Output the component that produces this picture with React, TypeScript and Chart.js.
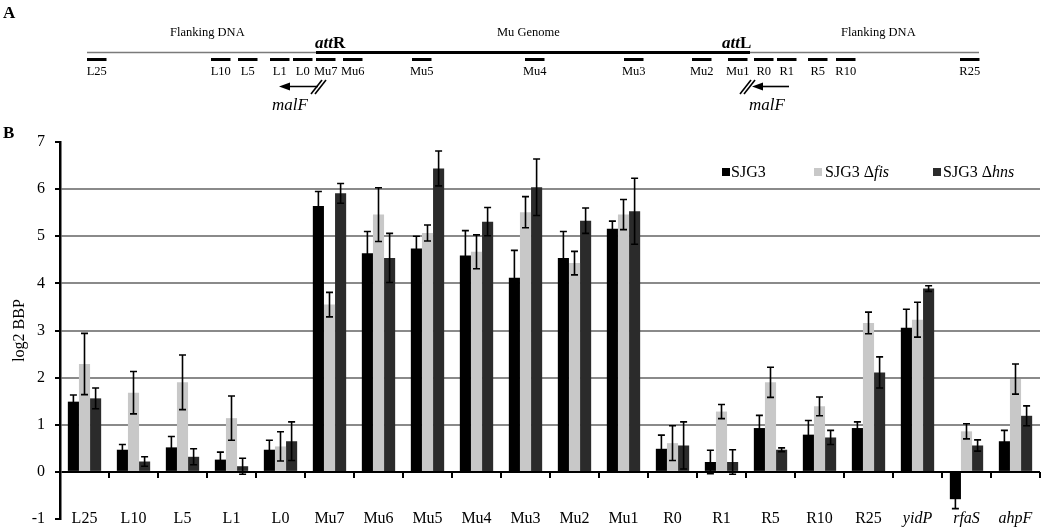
import React, { useEffect, useRef } from 'react';
import { Chart, registerables } from 'chart.js';

Chart.register(...registerables);

// ---------- Data (panel B) ----------
const categories = ['L25', 'L10', 'L5', 'L1', 'L0', 'Mu7', 'Mu6', 'Mu5', 'Mu4', 'Mu3', 'Mu2', 'Mu1', 'R0', 'R1', 'R5', 'R10', 'R25', 'yidP', 'rfaS', 'ahpF'];
const italicCategories = ['yidP', 'rfaS', 'ahpF'];

const sjg3 = [1.49, 0.47, 0.52, 0.26, 0.47, 5.64, 4.64, 4.74, 4.59, 4.12, 4.54, 5.16, 0.49, 0.21, 0.93, 0.79, 0.93, 3.06, -0.58, 0.65];
const sjg3Err = [0.14, 0.11, 0.23, 0.16, 0.2, 0.31, 0.46, 0.26, 0.53, 0.58, 0.56, 0.16, 0.29, 0.25, 0.27, 0.3, 0.13, 0.39, 0.2, 0.23];

const sjg3Fis = [2.29, 1.68, 1.9, 1.14, 0.54, 3.55, 5.46, 5.07, 4.67, 5.51, 4.43, 5.46, 0.61, 1.28, 1.9, 1.39, 3.16, 3.23, 0.86, 1.97];
const sjg3FisErr = [0.65, 0.45, 0.58, 0.47, 0.31, 0.26, 0.57, 0.17, 0.36, 0.33, 0.25, 0.32, 0.37, 0.15, 0.32, 0.2, 0.23, 0.37, 0.16, 0.32];

const sjg3Hns = [1.56, 0.22, 0.32, 0.12, 0.65, 5.91, 4.54, 6.44, 5.31, 6.04, 5.33, 5.53, 0.56, 0.21, 0.47, 0.73, 2.11, 3.89, 0.56, 1.19];
const sjg3HnsErr = [0.22, 0.1, 0.17, 0.17, 0.41, 0.21, 0.52, 0.37, 0.3, 0.6, 0.27, 0.7, 0.5, 0.26, 0.04, 0.15, 0.33, 0.06, 0.12, 0.21];

const yMin = -1;
const yMax = 7;

const seriesNames = ['SJG3', 'SJG3 \u0394fis', 'SJG3 \u0394hns'];
const seriesColors = ['#000000', '#c8c8c8', '#2b2b2b'];

// ---------- Data (panel A schematic) ----------
const probeNames = ['L25', 'L10', 'L5', 'L1', 'L0', 'Mu7', 'Mu6', 'Mu5', 'Mu4', 'Mu3', 'Mu2', 'Mu1', 'R0', 'R1', 'R5', 'R10', 'R25'];

const FONT = "'Liberation Serif', 'Times New Roman', serif";

const errorBarPlugin = {
  id: 'errorBars',
  afterDatasetsDraw(chart: any) {
    const errs = [sjg3Err, sjg3FisErr, sjg3HnsErr];
    const ctx = chart.ctx;
    const yScale = chart.scales.y;
    ctx.save();
    ctx.strokeStyle = '#000';
    ctx.lineWidth = 1.6;
    chart.data.datasets.forEach((ds: any, d: number) => {
      const meta = chart.getDatasetMeta(d);
      meta.data.forEach((el: any, i: number) => {
        const v = ds.data[i];
        const e = errs[d][i];
        const x = el.x;
        const yT = yScale.getPixelForValue(v + e);
        const yB = yScale.getPixelForValue(v - e);
        ctx.beginPath();
        ctx.moveTo(x, yT);
        ctx.lineTo(x, yB);
        ctx.moveTo(x - 3.5, yT);
        ctx.lineTo(x + 3.5, yT);
        ctx.moveTo(x - 3.5, yB);
        ctx.lineTo(x + 3.5, yB);
        ctx.stroke();
      });
    });
    // category tick marks on the zero line
    const xScale = chart.scales.x;
    const y0 = yScale.getPixelForValue(0);
    ctx.lineWidth = 2;
    ctx.beginPath();
    for (let i = 1; i <= categories.length; i++) {
      const x = Math.round(xScale.getPixelForValue(i - 0.5));
      ctx.moveTo(x, y0);
      ctx.lineTo(x, y0 + 6);
    }
    ctx.stroke();
    ctx.restore();
  },
};

function Schematic() {
  const probeX = [87, 211, 238, 270, 293, 316, 343, 412, 525, 624, 692, 728, 754, 777, 808, 836, 960];
  const w = 19.5;
  return (
    <svg width={1055} height={145} style={{ position: 'absolute', left: 0, top: 0 }}>
      <text x={3} y={18} fontFamily={FONT} fontWeight="bold" fontSize={17}>A</text>
      <text x={170} y={36} fontFamily={FONT} fontSize={12.5}>Flanking DNA</text>
      <text x={497} y={36} fontFamily={FONT} fontSize={12.5}>Mu Genome</text>
      <text x={841} y={36} fontFamily={FONT} fontSize={12.5}>Flanking DNA</text>
      <line x1={87} y1={52.5} x2={316} y2={52.5} stroke="#7a7a7a" strokeWidth={1.6} />
      <line x1={316} y1={52.5} x2={750} y2={52.5} stroke="#000" strokeWidth={3} />
      <line x1={750} y1={52.5} x2={979} y2={52.5} stroke="#7a7a7a" strokeWidth={1.6} />
      <text x={315} y={48} fontFamily={FONT} fontWeight="bold" fontSize={17}>
        <tspan fontStyle="italic">att</tspan>R
      </text>
      <text x={722} y={48} fontFamily={FONT} fontWeight="bold" fontSize={17}>
        <tspan fontStyle="italic">att</tspan>L
      </text>
      {probeNames.map((n, i) => (
        <g key={n}>
          <rect x={probeX[i]} y={58} width={w} height={3} fill="#000" />
          <text x={probeX[i] + w / 2} y={75} textAnchor="middle" fontFamily={FONT} fontSize={12.5}>{n}</text>
        </g>
      ))}
      {/* left malF arrow */}
      <line x1={318} y1={86.5} x2={284} y2={86.5} stroke="#000" strokeWidth={1.6} />
      <polygon points="279,86.5 290,82.5 290,90.5" fill="#000" />
      <line x1={311} y1={94} x2={322} y2={80} stroke="#000" strokeWidth={1.6} />
      <line x1={315} y1={94} x2={326} y2={80} stroke="#000" strokeWidth={1.6} />
      <text x={272} y={110} fontFamily={FONT} fontStyle="italic" fontSize={17}>malF</text>
      {/* right malF arrow */}
      <line x1={789} y1={86.5} x2={757} y2={86.5} stroke="#000" strokeWidth={1.6} />
      <polygon points="752,86.5 763,82.5 763,90.5" fill="#000" />
      <line x1={740} y1={94} x2={751} y2={80} stroke="#000" strokeWidth={1.6} />
      <line x1={744} y1={94} x2={755} y2={80} stroke="#000" strokeWidth={1.6} />
      <text x={749} y={110} fontFamily={FONT} fontStyle="italic" fontSize={17}>malF</text>
      <text x={3} y={138} fontFamily={FONT} fontWeight="bold" fontSize={17}>B</text>
    </svg>
  );
}

function Legend() {
  const items = [
    { sq: 722, tx: 731, name: 'SJG3', it: '' },
    { sq: 814, tx: 825, name: 'SJG3 \u0394', it: 'fis' },
    { sq: 933, tx: 943, name: 'SJG3 \u0394', it: 'hns' },
  ];
  return (
    <div style={{ position: 'absolute', left: 0, top: 0 }}>
      {items.map((it, i) => (
        <React.Fragment key={i}>
          <div style={{ position: 'absolute', left: it.sq, top: 168, width: 8, height: 8, background: seriesColors[i] }} />
          <div style={{ position: 'absolute', left: it.tx, top: 162, fontFamily: FONT, fontSize: 16, lineHeight: '20px', whiteSpace: 'nowrap', color: '#000' }}>
            {it.name}
            {it.it ? <i>{it.it}</i> : null}
          </div>
        </React.Fragment>
      ))}
    </div>
  );
}

export default function App() {
  const ref = useRef<HTMLCanvasElement | null>(null);

  useEffect(() => {
    if (!ref.current) return;
    const chart = new Chart(ref.current, {
      type: 'bar',
      data: {
        labels: categories,
        datasets: [
          { label: seriesNames[0], data: sjg3, backgroundColor: seriesColors[0] },
          { label: seriesNames[1], data: sjg3Fis, backgroundColor: seriesColors[1] },
          { label: seriesNames[2], data: sjg3Hns, backgroundColor: seriesColors[2] },
        ],
      },
      options: {
        responsive: false,
        animation: false,
        devicePixelRatio: 1,
        datasets: { bar: { barPercentage: 1, categoryPercentage: 0.68 } },
        layout: { padding: { top: 142, right: 15, bottom: 0, left: 0 } },
        plugins: { legend: { display: false }, tooltip: { enabled: false }, title: { display: false } },
        scales: {
          x: {
            grid: { display: false, drawTicks: false },
            border: { display: false },
            ticks: {
              mirror: true,
              padding: -9,
              color: '#000',
              maxRotation: 0,
              autoSkip: false,
              font: (c: any) => ({
                family: FONT,
                size: 16,
                style: italicCategories.includes(categories[c.index]) ? 'italic' : 'normal',
              }),
            },
            afterFit: (s: any) => { s.height = 10; s.paddingLeft = 0; s.paddingRight = 0; },
          },
          y: {
            min: yMin,
            max: yMax,
            ticks: { stepSize: 1, color: '#000', padding: 10, font: { family: FONT, size: 16 } },
            grid: {
              color: (c: any) => {
                const v = c.tick ? c.tick.value : null;
                if (v === 0) return '#000';
                if (v !== null && v >= 1 && v <= 6) return '#8a8a8a';
                return 'rgba(0,0,0,0)';
              },
              lineWidth: 2,
              tickColor: '#000',
              tickLength: 5,
            },
            border: { color: '#000', width: 2.5 },
            title: { display: true, text: 'log2 BBP', color: '#000', font: { family: FONT, size: 16 }, padding: { top: 10, bottom: 0 } },
            afterFit: (s: any) => { s.width = 60; s.paddingTop = 0; s.paddingBottom = 0; },
          },
        },
      },
      plugins: [errorBarPlugin],
    } as any);
    return () => chart.destroy();
  }, []);

  return (
    <div style={{ position: 'fixed', left: 0, top: 0, width: 1055, height: 529, background: '#fff', overflow: 'hidden' }}>
      <canvas ref={ref} width={1055} height={529} style={{ position: 'absolute', left: 0, top: 0, width: 1055, height: 529 }} />
      <Schematic />
      <Legend />
    </div>
  );
}
